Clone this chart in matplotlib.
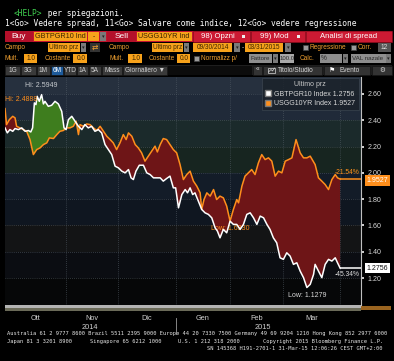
import numpy as np
import matplotlib
matplotlib.use('Agg')
import matplotlib.pyplot as plt
from matplotlib.patches import Rectangle
from matplotlib.lines import Line2D

# business-day index counted from 30 Sep 2014
btp_days = [0.0, 0.9, 1.9, 3.0, 3.9, 5.2, 6.5, 7.8, 9.1, 10.0, 10.7, 11.4, 12.0, 12.5, 13.3, 14.2,
            14.9, 15.5, 16.8, 18.1, 19.4, 20.7, 22.0, 22.9, 23.7, 24.6, 25.9, 27.2, 28.5, 29.8, 31.0,
            32.3, 33.6, 34.9, 36.2, 37.5, 38.8, 40.1, 41.4, 42.7, 44.0, 45.3, 46.6, 47.9, 48.9, 49.8,
            50.8, 52.1, 53.7, 55.0, 56.3, 57.6, 58.9, 60.2, 61.4, 62.7, 64.0, 65.3, 66.2, 67.3, 68.6,
            69.9, 70.8, 71.8, 72.8, 73.7, 75.0, 76.3, 77.6, 78.9, 80.2, 81.5, 82.4, 83.4, 84.7, 86.0,
            87.3, 88.6, 89.9, 91.2, 92.5, 93.8, 95.1, 96.4, 97.7, 99.0, 100.3, 101.6, 102.8, 104.1,
            105.4, 106.7, 108.0, 109.3, 110.6, 111.9, 113.2, 114.5, 115.8, 117.1, 118.4, 119.7, 120.3,
            121.6, 122.9, 124.2, 125.5, 126.8, 128.1, 129.0, 130.0]
btp_yield = [2.342, 2.304, 2.329, 2.316, 2.337, 2.329, 2.342, 2.316, 2.322, 2.311, 2.342, 2.532,
             2.519, 2.582, 2.544, 2.5949, 2.524, 2.544, 2.506, 2.514, 2.544, 2.524, 2.468, 2.342,
             2.329, 2.405, 2.430, 2.392, 2.354, 2.329, 2.367, 2.342, 2.354, 2.316, 2.329, 2.304,
             2.215, 2.177, 2.139, 2.051, 2.038, 2.013, 2.000, 2.025, 1.962, 1.949, 2.013, 2.058,
             2.058, 2.000, 1.987, 1.962, 1.962, 1.962, 1.937, 1.957, 1.975, 1.886, 1.886, 1.734,
             1.835, 1.873, 1.848, 1.886, 1.835, 1.848, 1.785, 1.722, 1.696, 1.684, 1.658, 1.582,
             1.557, 1.506, 1.570, 1.544, 1.633, 1.608, 1.608, 1.570, 1.608, 1.684, 1.696, 1.658,
             1.608, 1.671, 1.658, 1.608, 1.570, 1.506, 1.468, 1.354, 1.342, 1.392, 1.367, 1.304,
             1.316, 1.253, 1.203, 1.1279, 1.152, 1.228, 1.304, 1.253, 1.203, 1.304, 1.342, 1.329,
             1.354, 1.316, 1.2756]

ust_days = [0.0, 0.6, 1.7, 3.0, 3.9, 4.5, 5.8, 7.1, 8.4, 9.7, 11.0, 12.3, 13.6, 14.9, 16.2, 17.2,
            18.8, 20.1, 21.3, 22.6, 23.9, 25.2, 26.5, 27.6, 28.5, 29.1, 30.4, 31.7, 33.0, 34.3, 35.6,
            36.9, 38.2, 39.5, 40.8, 42.0, 43.3, 44.6, 45.9, 47.0, 47.9, 49.2, 50.5, 51.7, 53.0, 54.3,
            55.6, 56.9, 58.2, 59.1, 60.2, 61.4, 62.7, 64.0, 65.3, 66.6, 67.9, 69.2, 70.5, 71.8, 73.1,
            74.4, 75.7, 76.3, 77.2, 78.3, 79.6, 80.9, 82.1, 83.4, 84.7, 86.0, 87.3, 88.6, 89.9, 90.6,
            91.9, 93.1, 94.4, 95.7, 97.0, 98.3, 99.6, 100.9, 102.2, 103.5, 104.8, 106.1, 107.4, 108.7,
            110.0, 111.3, 112.9, 114.5, 115.8, 117.1, 118.4, 120.3, 121.6, 122.9, 124.2, 125.5,
            126.8, 128.1, 129.0, 130.0]
ust_yield = [2.4888, 2.367, 2.405, 2.430, 2.418, 2.354, 2.342, 2.329, 2.316, 2.253, 2.139, 2.177,
             2.190, 2.215, 2.228, 2.266, 2.261, 2.291, 2.316, 2.322, 2.342, 2.342, 2.354, 2.392,
             2.291, 2.367, 2.354, 2.372, 2.367, 2.342, 2.322, 2.354, 2.316, 2.278, 2.253, 2.228,
             2.177, 2.228, 2.291, 2.253, 2.304, 2.278, 2.215, 2.190, 2.152, 2.089, 2.127, 2.165,
             2.203, 2.159, 2.215, 2.261, 2.253, 2.215, 2.177, 2.152, 2.063, 1.949, 1.987, 2.013,
             1.937, 1.899, 1.848, 1.722, 1.797, 1.848, 1.823, 1.873, 1.797, 1.823, 1.810, 1.747,
             1.633, 1.722, 1.797, 1.772, 1.899, 1.975, 2.000, 2.025, 1.987, 2.076, 2.139, 2.101,
             2.114, 2.089, 1.975, 2.013, 2.000, 2.089, 2.101, 2.114, 2.253, 2.152, 2.114, 2.114,
             2.127, 2.063, 1.962, 1.937, 1.911, 1.873, 1.949, 1.987, 1.962, 1.9527]

month_edges = [23.5, 44.0, 66.2, 87.3, 107.8, 130.0]
month_mid = [11.75, 33.8, 55.1, 76.8, 97.5, 118.9]
month_labels = ['Ott', 'Nov', 'Dic', 'Gen', 'Feb', 'Mar']
year_pos = [33.0, 100.0]
year_labels = ['2014', '2015']
y_ticks = [1.20, 1.40, 1.60, 1.80, 2.00, 2.20, 2.40, 2.60]
band_edges = [0.995, 1.2, 1.4, 1.6, 1.8, 2.0, 2.2, 2.4, 2.6, 2.729]
band_colors = ['#060708', '#0b0d12', '#131415', '#0f1620', '#131c28', '#172520',
               '#1b2a2b', '#202a39', '#26303e']
pct_btp = '-45.34%'
pct_ust = '-21.54%'

MONO = 'DejaVu Sans Mono'
SANS = 'Liberation Sans'
OR_TXT = '#f0a030'
BOX_OR = '#f7a21b'
BOX_GR = '#8e8e8e'
RED = '#c3142d'
C_BTP = '#ffffff'
C_UST = '#ff8f1c'
FS = 4.7

fig = plt.figure(figsize=(3.94, 3.61), dpi=100, facecolor='black')
ui = fig.add_axes([0, 0, 1, 1])
ui.set_xlim(0, 394)
ui.set_ylim(361, 0)
ui.axis('off')


def rect(x0, y0, x1, y1, fc, ec='none', lw=0.5):
    ui.add_patch(Rectangle((x0, y0), x1 - x0, y1 - y0, fc=fc, ec=ec, lw=lw))


def label(x, y, s, color='white', size=FS, ha='left', family=SANS):
    ui.text(x, y, s, color=color, fontsize=size, ha=ha, va='center', family=family)


def field(x0, x1, yc, s, fc=BOX_OR, color='#3a2400', ha='left', size=FS):
    rect(x0, yc - 4.5, x1, yc + 4.5, fc)
    if ha == 'left':
        tx = x0 + 1.2
    elif ha == 'right':
        tx = x1 - 1.2
    else:
        tx = (x0 + x1) / 2
    label(tx, yc, s, color=color, ha=ha, size=size)


def drop(x0, yc, w=5):
    rect(x0, yc - 4.5, x0 + w, yc + 4.5, '#7a7a7a')
    label(x0 + w / 2, yc, '▾', color='#222222', size=3.8, ha='center', family='DejaVu Sans')


def check(x0, yc):
    rect(x0, yc - 2.5, x0 + 5, yc + 2.5, '#9a9a9a', ec='#444444')


# command lines
ui.text(14, 13, '<HELP>', color='#3fcf4f', family=MONO, fontsize=5.7, va='center')
ui.text(42.6, 13, ' per spiegazioni.', color='white', family=MONO, fontsize=5.7, va='center')
ui.text(5, 24, '1<Go> Vedere spread, 11<Go> Salvare come indice, 12<Go> vedere regressione',
        color='white', family=MONO, fontsize=5.65, va='center')

# row: buy / sell
y = 36.5
rect(5, 31, 392, 42, RED)
rect(5, 31, 33, 42, '#b3102a')
label(19, y, 'Buy', size=6.0, ha='center')
field(34, 87, y, 'GBTPGR10 Ind', size=5.2)
field(88, 99, y, '-', ha='center')
drop(100, y, 6)
rect(107, 31, 136, 42, '#b3102a')
label(122, y, 'Sell', size=6.0, ha='center')
field(137, 192, y, 'USGG10YR Ind', size=5.2)
for x0, x1, s in [(193, 250, '98) Opzni'), (251, 305, '99) Mod'), (306, 392, 'Analisi di spread')]:
    rect(x0, 31, x1, 42, '#cc1a33', ec='#8a0c1c')
    label((x0 + x1) / 2 - (4 if x1 < 306 else 0), y, s, size=5.6, ha='center')
    if x1 < 306:
        rect(x1 - 8, y - 1.5, x1 - 5, y + 1.5, '#eeeeee')

# row: campo
y = 47.5
label(5, y, 'Campo', color=OR_TXT)
field(48, 80, y, 'Ultimo prz', ha='center')
drop(81, y)
rect(90, y - 4.5, 100, y + 4.5, '#333333')
label(95, y, '⇄', color='#f0a030', size=5.5, ha='center', family='DejaVu Sans')
label(109, y, 'Campo', color=OR_TXT)
field(152, 183, y, 'Ultimo prz', ha='center')
drop(184, y)
field(193, 232, y, '09/30/2014', ha='center')
drop(234, y, 6)
label(242, y, '-', color='#cccccc')
field(245, 283, y, '03/31/2015', ha='center')
drop(285, y, 6)
check(303, y)
label(310, y, 'Regressione', color=OR_TXT)
check(351, y)
label(358, y, 'Corr.', color=OR_TXT)
field(378, 391, y, '12', fc='#555555', color='#dddddd', ha='center')

# row: mult / costante
y = 58.5
label(5, y, 'Mult.', color=OR_TXT)
field(24, 37, y, '1.0', ha='right')
label(45, y, 'Costante', color=OR_TXT)
field(73, 87, y, '0.0', ha='right')
label(110, y, 'Mult.', color=OR_TXT)
field(128, 142, y, '1.0', ha='right')
label(149, y, 'Costante', color=OR_TXT)
field(177, 190, y, '0.0', ha='right')
check(194, y)
label(201, y, 'Normalizz p/', color=OR_TXT)
field(249, 272, y, 'Fattore', fc=BOX_GR, color='#2a2a2a', size=4.4)
drop(273, y)
field(280, 294, y, '100.0', fc='#a8a8a8', color='#2a2a2a', ha='center', size=4.3)
label(300, y, 'Calc.', color=OR_TXT)
field(320, 342, y, '%', fc=BOX_GR, color='#2a2a2a')
drop(343, y)
field(351, 386, y, 'VAL nazale', fc=BOX_GR, color='#2a2a2a', size=4.5)
drop(386, y)

# row: period tabs
y = 70
rect(5, 65, 392, 75, '#1e1e1e')
tabs = [(5, 20, '1G'), (21, 36, '3G'), (37, 50, '1M'), (51, 63, '6M'), (64, 76, 'YTD'),
        (77, 88, '1A'), (89, 101, '5A'), (102, 122, 'Mass'), (123, 167, 'Giornaliero ▼')]
for x0, x1, s in tabs:
    sel = s == '6M'
    rect(x0, 65.5, x1, 74.5, '#1d5a9a' if sel else '#3a3a3a', ec='#151515')
    label((x0 + x1) / 2, y, s, color='#ffffff' if sel else '#cfcfcf', ha='center',
          family=[SANS, 'DejaVu Sans'])
rect(168, 65.5, 252, 74.5, '#0c0c0c')
for x0, x1, s in [(253, 262, '«'), (263, 322, 'Titolo/Studio'), (324, 370, 'Evento'), (372, 392, '⚙')]:
    rect(x0, 65.5, x1, 74.5, '#333333', ec='#151515')
    label((x0 + x1) / 2 + (3 if x1 - x0 > 30 else 0), y, s, color='#d8d8d8', ha='center',
          family=[SANS, 'DejaVu Sans'])
# small chart icon and flag
rect(268, 67.5, 275, 72.5, 'none', ec='#d8d8d8', lw=0.5)
ui.plot([268.5, 271, 272.5, 274.5], [72, 69.5, 71, 68], color='#d8d8d8', lw=0.5)
label(332, y, '⚑', color='#ffffff', size=5, ha='center', family='DejaVu Sans')

# scroll strip under the chart
rect(5, 305, 361, 308, '#b4b4b4')
rect(5, 308, 361, 311, '#6a6a58')
rect(361, 306, 391, 310, '#9a6420')

# footer
ft = dict(color='#e6e6e6', family=MONO, fontsize=3.85, va='center')
ui.text(7, 334, 'Australia 61 2 9777 8600 Brazil 5511 2395 9000 Europe 44 20 7330 7500 '
        'Germany 49 69 9204 1210 Hong Kong 852 2977 6000', **ft)
ui.text(7, 341.5, 'Japan 81 3 3201 8900', **ft)
ui.text(90, 341.5, 'Singapore 65 6212 1000', **ft)
ui.text(178, 341.5, 'U.S. 1 212 318 2000', **ft)
ui.text(383, 341.5, 'Copyright 2015 Bloomberg Finance L.P.', ha='right', **ft)
ui.text(383, 348.5, 'SN 145368 H191-2701-1 31-Mar-15 12:06:26 CEST GMT+2:00', ha='right', **ft)

# ---- chart ----
ax = fig.add_axes([5 / 394, 1 - 305 / 361, 356 / 394, 228 / 361])
ax.set_xlim(0, 138.1)
ax.set_ylim(band_edges[0], band_edges[-1])
ax.patch.set_facecolor('black')
for lo, hi, c in zip(band_edges[:-1], band_edges[1:], band_colors):
    ax.axhspan(lo, hi, color=c, lw=0, zorder=0)

for v in y_ticks:
    ax.axhline(v, color='#56606a', lw=0.5, ls=(0, (1, 2)), zorder=1)
for d in month_edges:
    ax.axvline(d, color='#56606a', lw=0.5, ls=(0, (1, 2)), zorder=1)

grid = np.union1d(btp_days, ust_days)
w = np.interp(grid, btp_days, btp_yield)
o = np.interp(grid, ust_days, ust_yield)
ax.fill_between(grid, w, o, where=w >= o, interpolate=True, color='#3e7d1e', lw=0, zorder=2)
ax.fill_between(grid, w, o, where=o >= w, interpolate=True, color='#6e1517', lw=0, zorder=2)

ax.plot(ust_days, ust_yield, color=C_UST, lw=1.1, zorder=3)
ax.plot(btp_days, btp_yield, color=C_BTP, lw=1.1, zorder=4)
xmax = ax.get_xlim()[1]
ax.hlines(ust_yield[-1], ust_days[-1], xmax, color=C_UST, lw=1.1, zorder=3)
ax.hlines(btp_yield[-1], btp_days[-1], xmax, color=C_BTP, lw=1.1, zorder=4)

# hi / low markers
i = int(np.argmax(btp_yield))
ax.annotate('Hi: %.4f' % btp_yield[i], (btp_days[i], btp_yield[i]), xytext=(0, 4),
            textcoords='offset points', ha='center', va='bottom', color='#c8ccd0',
            fontsize=5, family=SANS, zorder=6)
i = int(np.argmax(ust_yield))
ax.annotate('Hi: %.4f' % ust_yield[i], (ust_days[i], ust_yield[i]), xytext=(0, 4),
            textcoords='offset points', ha='left', va='bottom', color=C_UST,
            fontsize=5, family=SANS, zorder=6)
i = int(np.argmin(btp_yield))
ax.annotate('Low: %.4f' % btp_yield[i], (btp_days[i], btp_yield[i]), xytext=(0, -3),
            textcoords='offset points', ha='center', va='top', color='#d8d8d8',
            fontsize=5, family=SANS, zorder=6)
i = int(np.argmin(ust_yield))
ax.annotate('Low: %.4f' % ust_yield[i], (ust_days[i], ust_yield[i]), xytext=(0, -3),
            textcoords='offset points', ha='center', va='top', color=C_UST,
            fontsize=5, family=SANS, zorder=3.5)

# change labels and last-value tags
yt = ax.get_yaxis_transform()
ax.annotate(pct_ust, (1.0, ust_yield[-1]), xycoords=yt, xytext=(-1, 2.5),
            textcoords='offset points', ha='right', va='bottom', color=C_UST,
            fontsize=4.8, family=SANS, zorder=6)
ax.annotate(pct_btp, (1.0, btp_yield[-1]), xycoords=yt, xytext=(-1, -2),
            textcoords='offset points', ha='right', va='top', color='#e0e0e0',
            fontsize=4.8, family=SANS, zorder=6)
ax.annotate('%.4f' % ust_yield[-1], (1.0, ust_yield[-1]), xycoords=yt, xytext=(4, -1),
            textcoords='offset points', ha='left', va='center', color='white', fontsize=5,
            family=SANS, annotation_clip=False, zorder=7,
            bbox=dict(boxstyle='square,pad=0.25', fc=C_UST, ec='none'))
ax.annotate('%.4f' % btp_yield[-1], (1.0, btp_yield[-1]), xycoords=yt, xytext=(4, 0),
            textcoords='offset points', ha='left', va='center', color='#111111', fontsize=5,
            family=SANS, annotation_clip=False, zorder=7,
            bbox=dict(boxstyle='square,pad=0.25', fc='white', ec='none'))

# axes styling
for s in ['left', 'top', 'bottom']:
    ax.spines[s].set_visible(False)
ax.spines['right'].set_color('#bfbfbf')
ax.spines['right'].set_linewidth(0.8)
ax.yaxis.tick_right()
ax.set_yticks(y_ticks)
ax.set_yticklabels(['%.2f' % v for v in y_ticks], family=SANS)
ax.tick_params(axis='y', length=2, width=1.3, color='#e0e0e0', labelcolor='#d8d8d8',
               labelsize=5.1, pad=2.5)
ax.set_xticks(month_mid)
ax.set_xticklabels(month_labels, family=SANS)
ax.tick_params(axis='x', length=0, labelcolor='#d0d0d0', labelsize=5.3, pad=7)
xt = ax.get_xaxis_transform()
for p, s in zip(year_pos, year_labels):
    ax.text(p, -0.1, s, transform=xt, ha='center', va='center', color='#d0d0d0',
            fontsize=5.3, family=SANS, clip_on=False)
ax.plot([month_edges[2], month_edges[2]], [-0.058, -0.125], transform=xt, color='#9a9a9a',
        lw=0.6, clip_on=False)

# legend
handles = [Line2D([], [], ls='', marker='s', ms=4.5, mfc=C_BTP, mec='#777777'),
           Line2D([], [], ls='', marker='s', ms=4.5, mfc=C_UST, mec='#777777')]
names = ['GBTPGR10 Index %.4f' % btp_yield[-1], 'USGG10YR Index %.4f' % ust_yield[-1]]
leg = ax.legend(handles, names, title='Ultimo prz', loc='upper right',
                bbox_to_anchor=(0.993, 0.997), frameon=True, fancybox=False,
                prop={'family': SANS, 'size': 5}, title_fontproperties={'family': SANS, 'size': 5},
                handlelength=0.8, handletextpad=0.4, borderpad=0.5, labelspacing=0.35,
                borderaxespad=0)
leg.get_frame().set_facecolor('#1a2129')
leg.get_frame().set_edgecolor('#3c4650')
leg.get_frame().set_linewidth(0.6)
leg.get_title().set_color('#c8c8c8')
for t in leg.get_texts():
    t.set_color('#d8d8d8')
leg.set_zorder(8)

fig.savefig('out.png', dpi=100, facecolor='black')
